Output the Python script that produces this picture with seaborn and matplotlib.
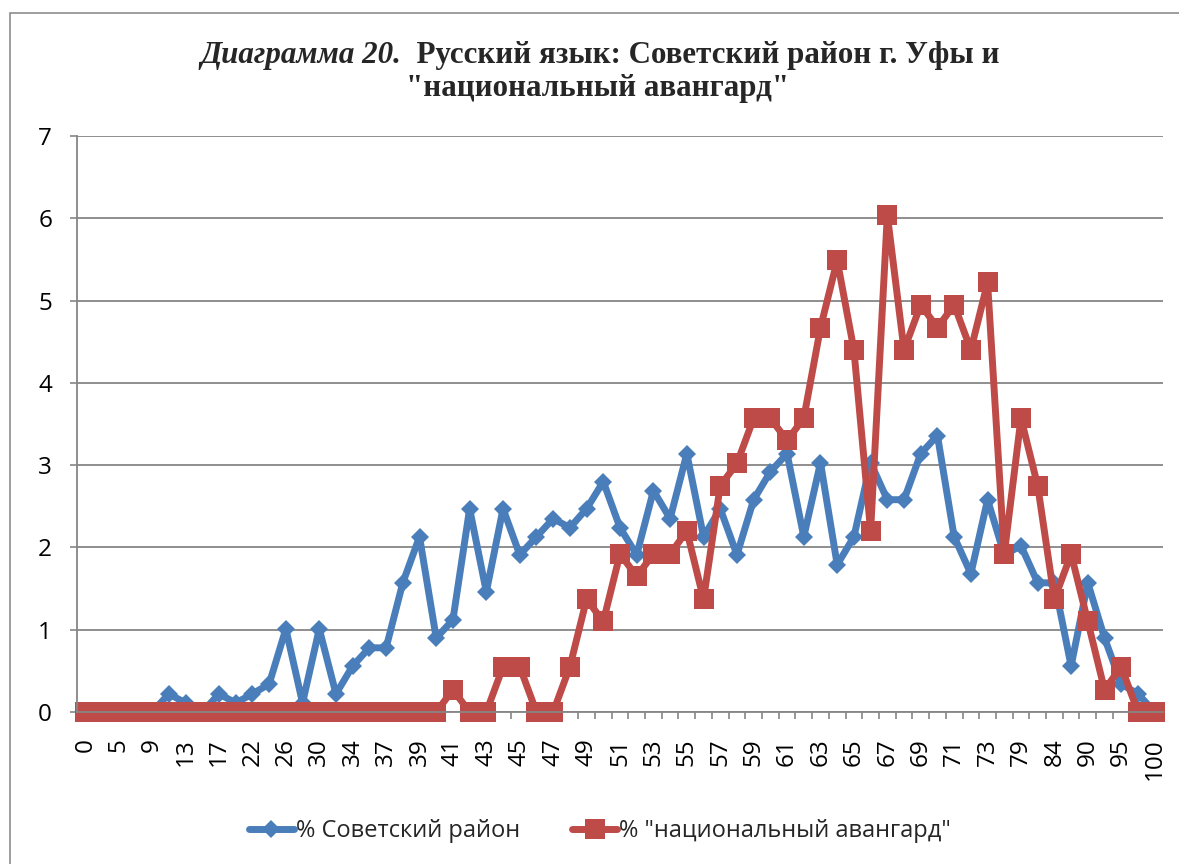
import numpy as np
import pandas as pd
import matplotlib
matplotlib.use("Agg")
import matplotlib.pyplot as plt
import matplotlib.patches as mpatches
from matplotlib.ticker import FixedLocator, NullFormatter
import seaborn as sns

# ---------------- data ----------------
categories = ['0', '3', '5', '7', '9', '11', '13', '15', '17', '20', '22', '24', '26', '28',
              '30', '32', '34', '36', '37', '38', '39', '40', '41', '42', '43', '44', '45', '46',
              '47', '48', '49', '50', '51', '52', '53', '54', '55', '56', '57', '58', '59', '60',
              '61', '62', '63', '64', '65', '66', '67', '68', '69', '70', '71', '72', '73', '76',
              '79', '81', '84', '87', '90', '92', '95', '98', '100']

sovetsky = [0, 0, 0, 0, 0, 0.22, 0.11, 0, 0.22, 0.11, 0.22, 0.34, 1.01, 0.11, 1.01, 0.22,
            0.56, 0.78, 0.78, 1.57, 2.13, 0.90, 1.12, 2.47, 1.46, 2.47, 1.91, 2.13, 2.35, 2.24,
            2.47, 2.80, 2.24, 1.91, 2.69, 2.35, 3.14, 2.13, 2.47, 1.91, 2.58, 2.92, 3.14, 2.13,
            3.03, 1.79, 2.13, 3.03, 2.58, 2.58, 3.14, 3.36, 2.13, 1.68, 2.58, 1.91, 2.02, 1.57,
            1.57, 0.56, 1.57, 0.90, 0.34, 0.22, 0]

avangard = [0, 0, 0, 0, 0, 0, 0, 0, 0, 0, 0, 0, 0, 0, 0, 0, 0, 0, 0, 0, 0, 0, 0.27, 0, 0,
            0.55, 0.55, 0, 0, 0.55, 1.37, 1.10, 1.92, 1.65, 1.92, 1.92, 2.20, 1.37, 2.75, 3.02,
            3.57, 3.57, 3.30, 3.57, 4.67, 5.49, 4.40, 2.20, 6.04, 4.40, 4.95, 4.67, 4.95, 4.40,
            5.22, 1.92, 3.57, 2.75, 1.37, 1.92, 1.10, 0.27, 0.55, 0, 0]

series_names = ['% Советский район', '% "национальный авангард"']
title_part1 = 'Диаграмма 20.'
title_part2 = '  Русский язык: Советский район г. Уфы и'
title_line2 = '"национальный авангард"'

# ---------------- styling ----------------
sns.set_theme(style="white")
plt.rcParams['font.family'] = ['Open Sans', 'DejaVu Sans']

BLUE = '#4A7EBB'
RED = '#BE4B48'
GRID = '#868686'
W, H = 1179, 864

df = pd.DataFrame({'pos': np.arange(len(categories)), 'cat': categories,
                   'sov': sovetsky, 'avg': avangard})

fig = plt.figure(figsize=(W / 100, H / 100), dpi=100)
ax = fig.add_axes([77 / W, 1 - 712 / H, (1163 - 77) / W, (712 - 136) / H])

sns.lineplot(data=df, x='pos', y='sov', ax=ax, color=BLUE, lw=5, marker='D',
             markersize=9.4, markeredgewidth=0, label=series_names[0], clip_on=False)
sns.lineplot(data=df, x='pos', y='avg', ax=ax, color=RED, lw=5, marker='s',
             markersize=14.4, markeredgewidth=0, label=series_names[1], clip_on=False)

ax.set_xlim(-0.5, len(categories) - 0.5)
ax.set_ylim(0, 7)
ax.set_yticks(range(0, 8))
ax.set_xlabel('')
ax.set_ylabel('')

# x ticks: labels on every other category, tick marks between categories
ax.set_xticks(df['pos'][::2])
ax.set_xticklabels(df['cat'][::2], rotation=90)
ax.xaxis.set_minor_locator(FixedLocator(np.arange(-0.5, len(categories), 1)))
ax.xaxis.set_minor_formatter(NullFormatter())
ax.tick_params(axis='x', which='major', length=0, pad=19, labelsize=17.5, colors='black')
ax.tick_params(axis='x', which='minor', bottom=True, length=5, width=1.2, color=GRID,
               direction='out')
ax.tick_params(axis='y', which='major', left=True, length=5, width=1.2, color=GRID,
               pad=13, labelsize=17.5, labelcolor='black', direction='out')

ax.grid(axis='y', color=GRID, lw=1.3)
ax.grid(axis='x', visible=False)
for s in ['top', 'right']:
    ax.spines[s].set_visible(False)
for s in ['left', 'bottom']:
    ax.spines[s].set_color(GRID)
    ax.spines[s].set_linewidth(1.3)
ax.set_axisbelow(True)

# legend at bottom
ax.legend_.remove()
handles, labels = ax.get_legend_handles_labels()
fig.legend(handles, labels, loc='center', bbox_to_anchor=(600 / W, 1 - 831 / H),
           ncol=2, frameon=False, fontsize=17, handlelength=1.9,
           handletextpad=0.1, columnspacing=2.2)

# outer chart border
fig.patches.append(mpatches.Rectangle((10 / W, -0.1), 1.2, 1 - 13 / H + 0.1,
                                      transform=fig.transFigure, fill=False,
                                      edgecolor='#8c8c8c', lw=1.2))

# title (two styles on line 1)
serif = ['Liberation Serif', 'DejaVu Serif']
fs = 20
t1 = fig.text(0, 1 - 63 / H, title_part1, family=serif, style='italic',
              weight='bold', fontsize=fs, va='baseline', ha='left')
t2 = fig.text(0, 1 - 63 / H, title_part2, family=serif, weight='bold',
              fontsize=fs, va='baseline', ha='left')
fig.canvas.draw()
r = fig.canvas.get_renderer()
w1 = t1.get_window_extent(r).width
w2 = t2.get_window_extent(r).width
scale = 798 / (w1 + w2)
fs = fs * scale
t1.set_fontsize(fs)
t2.set_fontsize(fs)
fig.canvas.draw()
w1 = t1.get_window_extent(r).width
w2 = t2.get_window_extent(r).width
start = 600 - (w1 + w2) / 2
t1.set_x(start / W)
t2.set_x((start + w1) / W)
fig.text(598 / W, 1 - 96 / H, title_line2, family=serif, weight='bold',
         fontsize=fs, va='baseline', ha='center')

fig.savefig('out.png', dpi=100)
